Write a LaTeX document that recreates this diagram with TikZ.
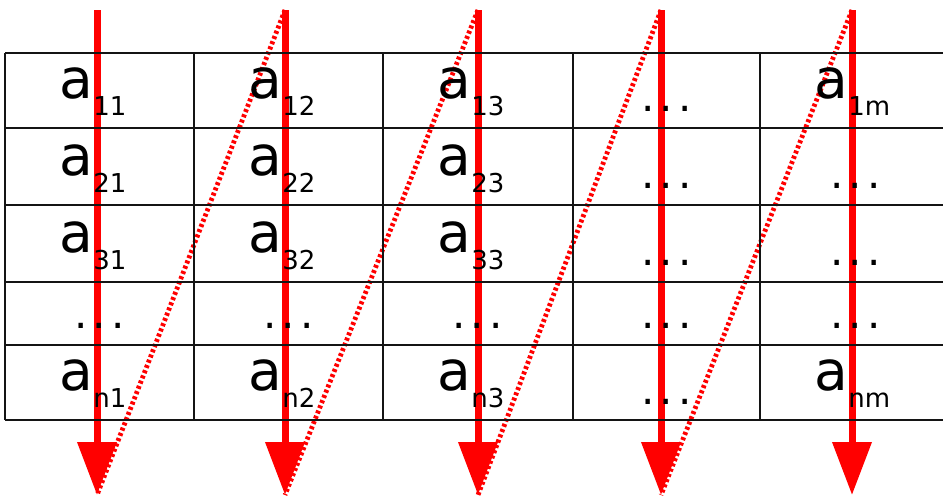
\documentclass[tikz,border=0pt]{standalone}
\usepackage{fontspec}
\setmainfont{DejaVu Sans}
\usetikzlibrary{arrows.meta}
\definecolor{arrred}{RGB}{255,0,0}
\definecolor{gridgray}{RGB}{20,20,20}
\tikzset{
  colarrow/.style={draw=arrred, line width=7pt, -{Triangle[width=38pt,length=53pt]}, fill=arrred},
  zigzag/.style={draw=arrred, line width=4.8pt, dash pattern=on 3pt off 2.6pt},
  gridline/.style={draw=gridgray, line width=1.4pt},
  elem/.style={anchor=base west, inner sep=0pt, outer sep=0pt, font=\fontsize{55}{55}\selectfont},
  dotsnode/.style={anchor=base west, inner sep=0pt, outer sep=0pt, font=\fontsize{42}{42}\selectfont}
}
\newcommand{\subtxt}[1]{\raisebox{-17pt}{\fontsize{26}{26}\selectfont #1}}
\newcommand{\threedots}{.\hspace{5.2pt}.\hspace{5.2pt}.}
\begin{document}
\begin{tikzpicture}[x=1pt,y=-1pt]
\useasboundingbox (0,0) rectangle (943,496);
% arrow endpoints
\foreach \i/\x in {1/97,2/285,3/478,4/661,5/852}{
  \coordinate (t\i) at (\x,10);
  \coordinate (b\i) at (\x,495);
}
% column arrows
\foreach \i in {1,...,5}{
  \draw[colarrow] (t\i) -- (b\i);
}
% zigzag dotted returns
\draw[zigzag] (t2) -- (b1);
\draw[zigzag] (t3) -- (b2);
\draw[zigzag] (t4) -- (b3);
\draw[zigzag] (t5) -- (b4);
% grid
\foreach \y in {53,128,205,282,345,420}{
  \draw[gridline] (5,\y) -- (943,\y);
}
\foreach \x in {5,194,383,573,760}{
  \draw[gridline] (\x,53) -- (\x,420);
}
% elements: row 1 (bottom 128)
\node[elem] (a11) at (59.7,98.5) {a\subtxt{11}};
\node[elem] (a12) at (248.7,98.5) {a\subtxt{12}};
\node[elem] (a13) at (437.7,98.5) {a\subtxt{13}};
\node[dotsnode] (d14) at (641,111.5) {\threedots};
\node[elem] (a1m) at (814.7,98.5) {a\subtxt{1m}};
% row 2 (bottom 205)
\node[elem] (a21) at (59.7,175) {a\subtxt{21}};
\node[elem] (a22) at (248.7,175) {a\subtxt{22}};
\node[elem] (a23) at (437.7,175) {a\subtxt{23}};
\node[dotsnode] (d24) at (641,188) {\threedots};
\node[dotsnode] (d25) at (830,188) {\threedots};
% row 3 (bottom 282)
\node[elem] (a31) at (59.7,252) {a\subtxt{31}};
\node[elem] (a32) at (248.7,252) {a\subtxt{32}};
\node[elem] (a33) at (437.7,252) {a\subtxt{33}};
\node[dotsnode] (d34) at (641,265) {\threedots};
\node[dotsnode] (d35) at (830,265) {\threedots};
% row 4 (bottom 345)
\node[dotsnode] (d41) at (74,328) {\threedots};
\node[dotsnode] (d42) at (263,328) {\threedots};
\node[dotsnode] (d43) at (452,328) {\threedots};
\node[dotsnode] (d44) at (641,328) {\threedots};
\node[dotsnode] (d45) at (830,328) {\threedots};
% row 5 (bottom 420)
\node[elem] (an1) at (59.7,390) {a\subtxt{n1}};
\node[elem] (an2) at (248.7,390) {a\subtxt{n2}};
\node[elem] (an3) at (437.7,390) {a\subtxt{n3}};
\node[dotsnode] (d54) at (641,404) {\threedots};
\node[elem] (anm) at (814.7,390) {a\subtxt{nm}};
\end{tikzpicture}
\end{document}
